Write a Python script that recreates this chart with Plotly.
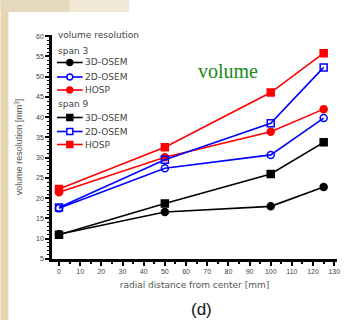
import plotly.graph_objects as go

x_vals = [0, 50, 100, 125]
s3_3d = [11.1, 16.6, 18.0, 22.8]
s3_2d = [17.5, 27.4, 30.7, 39.8]
s3_hosp = [21.5, 30.1, 36.4, 42.0]
s9_3d = [11.0, 18.7, 26.0, 33.8]
s9_2d = [17.7, 29.5, 38.5, 52.3]
s9_hosp = [22.3, 32.6, 46.1, 55.8]

series = [
    ("span 3", "3D-OSEM", s3_3d, "black", "circle"),
    ("span 3", "2D-OSEM", s3_2d, "blue", "circle-open"),
    ("span 3", "HOSP", s3_hosp, "red", "circle"),
    ("span 9", "3D-OSEM", s9_3d, "black", "square"),
    ("span 9", "2D-OSEM", s9_2d, "blue", "square-open"),
    ("span 9", "HOSP", s9_hosp, "red", "square"),
]

W, H = 345, 320
ML, MR, MT, MB = 52, 5, 35, 61
PW, PH = W - ML - MR, H - MT - MB
LEG_FONT = dict(family="DejaVu Sans", size=9, color="#444")


def px(xp):
    return (xp - ML) / PW


def py(yp):
    return (H - MB - yp) / PH


fig = go.Figure()
for grp, name, ys, col, sym in series:
    fig.add_trace(go.Scatter(
        x=x_vals, y=ys, name=name, mode="lines+markers", showlegend=False,
        line=dict(color=col, width=1.6),
        marker=dict(symbol=sym, size=7, color=col, line=dict(color=col, width=1.5)),
    ))

shapes = [
    dict(type="rect", xref="paper", yref="paper", x0=px(0), x1=px(8),
         y0=py(H), y1=py(0), fillcolor="#e6d6b0", line=dict(width=0), layer="below"),
    dict(type="rect", xref="paper", yref="paper", x0=px(0), x1=px(70),
         y0=py(12), y1=py(0), fillcolor="#e6d9bb", line=dict(width=0), layer="below"),
    dict(type="rect", xref="paper", yref="paper", x0=px(70), x1=px(130),
         y0=py(12), y1=py(0), fillcolor="#f1e9d6", line=dict(width=0), layer="below"),
]
annotations = [
    dict(text="volume resolution", x=px(56), y=py(35), xref="paper", yref="paper",
         showarrow=False, xanchor="left", yanchor="middle", font=LEG_FONT),
    dict(text="volume", x=px(230), y=py(58), xref="paper", yref="paper", showarrow=False,
         font=dict(family="Liberation Serif, Times New Roman", size=20, color="#1a8a1a")),
    dict(text="(d)", x=px(203), y=py(309), xref="paper", yref="paper", showarrow=False,
         yanchor="middle", font=dict(family="Liberation Sans, Arial", size=17, color="#111")),
]

row_y = [62.5, 77, 90, 117.5, 131.5, 144.5]
group_y = {"span 3": 50.5, "span 9": 104}
for g, gy in group_y.items():
    annotations.append(dict(text=g, x=px(56), y=py(gy), xref="paper", yref="paper",
                            showarrow=False, xanchor="left", yanchor="middle",
                            font=LEG_FONT))
for (grp, name, ys, col, sym), ry in zip(series, row_y):
    shapes.append(dict(type="line", xref="paper", yref="paper", x0=px(57), x1=px(83),
                       y0=py(ry), y1=py(ry), line=dict(color=col, width=1.6)))
    fill = "white" if "open" in sym else col
    stype = "circle" if sym.startswith("circle") else "rect"
    r = 3
    shapes.append(dict(type=stype, xref="paper", yref="paper",
                       x0=px(70 - r), x1=px(70 + r), y0=py(ry + r), y1=py(ry - r),
                       fillcolor=fill, line=dict(color=col, width=1.5)))
    annotations.append(dict(text=name, x=px(83), y=py(ry), xref="paper", yref="paper",
                            showarrow=False, xanchor="left", yanchor="middle",
                            font=LEG_FONT))

fig.update_layout(
    width=W, height=H,
    margin=dict(l=ML, r=MR, t=MT, b=MB),
    paper_bgcolor="white", plot_bgcolor="white",
    font=dict(family="Liberation Sans, Arial", size=7, color="#444"),
    showlegend=False,
    shapes=shapes,
    annotations=annotations,
)

fig.update_xaxes(
    range=[-3.3, 131.3], dtick=10, tick0=0, showgrid=False, zeroline=False,
    showline=True, linecolor="black", linewidth=2.5, ticks="outside", ticklen=4,
    tickwidth=2, tickcolor="black",
    minor=dict(dtick=5, ticks="outside", ticklen=2, tickcolor="black", tickwidth=1.5),
    title=dict(text="radial distance from center [mm]",
               font=dict(family="DejaVu Sans", size=9, color="#555"), standoff=8),
)
fig.update_yaxes(
    range=[5, 60.3], dtick=5, tick0=5, showgrid=False, zeroline=False,
    showline=True, linecolor="black", linewidth=2.5, ticks="outside", ticklen=4,
    tickwidth=2, tickcolor="black",
    minor=dict(dtick=1, ticks="outside", ticklen=2, tickcolor="black", tickwidth=1),
    title=dict(text="volume resolution [mm<sup>3</sup>]",
               font=dict(family="Liberation Sans, Arial", size=9, color="#555"), standoff=12),
)

fig.write_html("out.html")
